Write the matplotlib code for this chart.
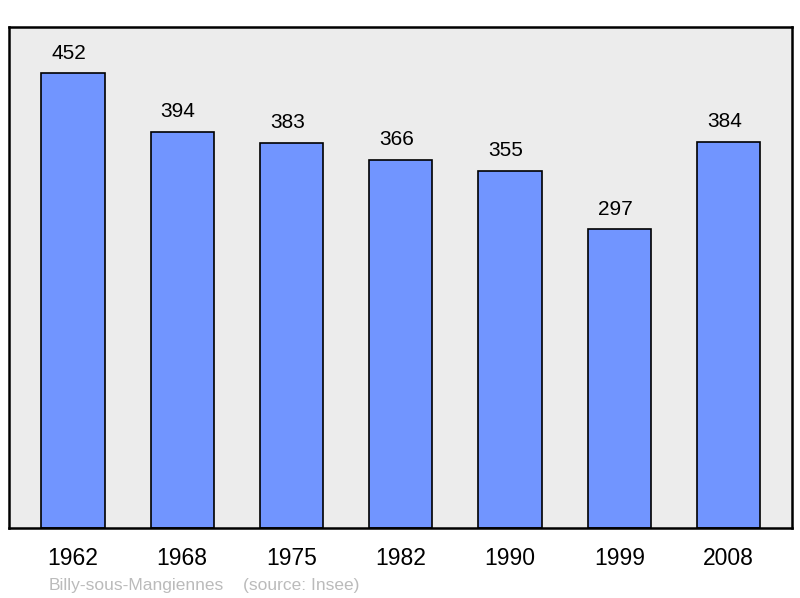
import matplotlib.pyplot as plt

# Données de population
years = ['1962', '1968', '1975', '1982', '1990', '1999', '2008']
population = [452, 394, 383, 366, 355, 297, 384]

plt.rcParams['font.family'] = ['Liberation Sans', 'DejaVu Sans']

fig = plt.figure(figsize=(8, 5.98), dpi=100)
ax = fig.add_axes([9 / 800, 70 / 598, 783 / 800, 501 / 598])
ax.set_facecolor('#ececec')

x = range(len(years))
bars = ax.bar(x, population, width=0.58, color='#7195ff', edgecolor='black', linewidth=1.2)

# valeurs au-dessus des barres
for xi, val in zip(x, population):
    ax.annotate(str(val), (xi, val), xytext=(-3, 10.5), textcoords='offset points',
                ha='center', va='baseline', fontsize=15)

ax.set_xlim(-0.585, 6.58)
ax.set_ylim(0, 498)
ax.set_xticks(list(x))
ax.set_xticklabels(years, fontsize=16.5)
ax.tick_params(axis='x', length=0, pad=14)
ax.set_yticks([])
for s in ax.spines.values():
    s.set_linewidth(1.8)

fig.text(49 / 800, 1 - 590 / 598, 'Billy-sous-Mangiennes', color='#bbbbbb', fontsize=12.5)
fig.text(243 / 800, 1 - 590 / 598, '(source: Insee)', color='#bbbbbb', fontsize=12.5)

fig.savefig('out.png', dpi=100)
